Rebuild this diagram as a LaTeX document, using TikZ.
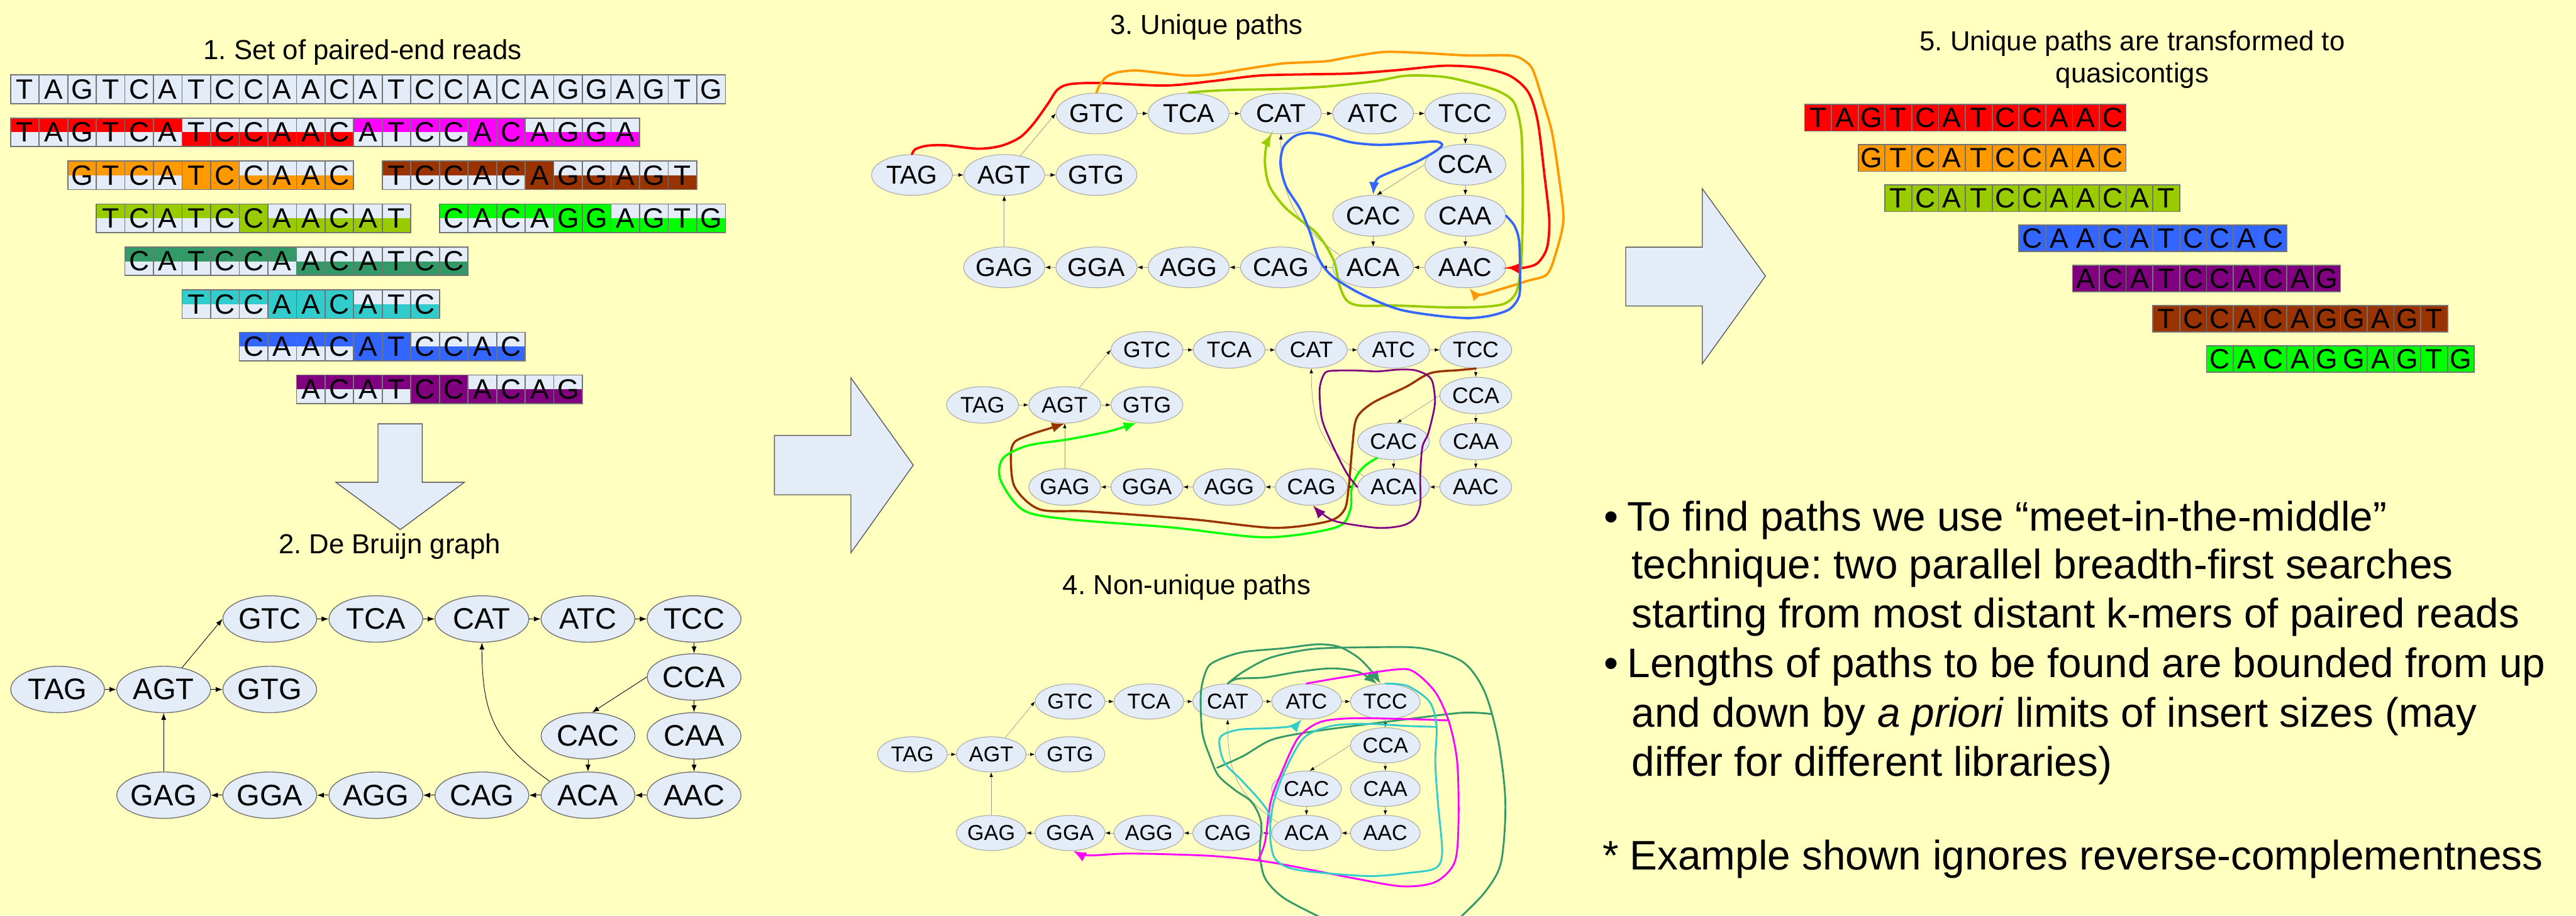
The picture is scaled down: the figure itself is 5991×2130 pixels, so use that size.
\documentclass[tikz,border=0pt]{standalone}
\usepackage{fontspec}
\setmainfont{Liberation Sans}
\frenchspacing
\usetikzlibrary{shapes.geometric,arrows.meta}
\definecolor{bgy}{HTML}{FFFFC0}
\definecolor{cellbg}{HTML}{E4ECF8}
\definecolor{cred}{HTML}{FF0000}
\definecolor{cmag}{HTML}{FF00FF}
\definecolor{corange}{HTML}{FF9900}
\definecolor{cbrown}{HTML}{993300}
\definecolor{cyg}{HTML}{99CC00}
\definecolor{clg}{HTML}{00FF00}
\definecolor{csg}{HTML}{339966}
\definecolor{cteal}{HTML}{33CCCC}
\definecolor{cblue}{HTML}{3366FF}
\definecolor{cpurp}{HTML}{800080}

\def\cw{66.5}\def\chh{66.5}
% #1 name, #2 x origin, #3 y top, #4 start col, #5 letters, #6 colour, #7 n top, #8 n full (rest bottom)
\newcommand\seqrow[8]{%
  \foreach \ltr [count=\i from 0] in {#5}{%
    \pgfmathsetmacro\xl{#2+\cw*(#4+\i)}%
    \fill[cellbg] (\xl,-#3) rectangle ++(\cw,-\chh);
    \ifnum\i<#7\relax
      \fill[#6] (\xl,-#3) rectangle ++(\cw,-\chh/2);
    \else
      \ifnum\i<\numexpr#7+#8\relax
        \fill[#6] (\xl,-#3) rectangle ++(\cw,-\chh);
      \else
        \fill[#6] (\xl,-#3-\chh/2) rectangle ++(\cw,-\chh/2);
      \fi
    \fi
    \draw[cellborder] (\xl,-#3) rectangle ++(\cw,-\chh);
    \node[cellltr] (#1-\i) at (\xl+\cw/2,-#3-\chh/2) {\ltr};
  }%
}
% #1 prefix, #2 x of TAG, #3 column step, #4 y top row, #5 y TAG row, #6 y CCA, #7 y CAC row, #8 y bottom row
\newcommand\dbgraph[8]{%
  \node[kmer] (#1TAG) at (#2,-#5) {TAG};
  \node[kmer] (#1AGT) at (#2+#3,-#5) {AGT};
  \node[kmer] (#1GTG) at (#2+2*#3,-#5) {GTG};
  \node[kmer] (#1GTC) at (#2+2*#3,-#4) {GTC};
  \node[kmer] (#1TCA) at (#2+3*#3,-#4) {TCA};
  \node[kmer] (#1CAT) at (#2+4*#3,-#4) {CAT};
  \node[kmer] (#1ATC) at (#2+5*#3,-#4) {ATC};
  \node[kmer] (#1TCC) at (#2+6*#3,-#4) {TCC};
  \node[kmer] (#1CCA) at (#2+6*#3,-#6) {CCA};
  \node[kmer] (#1CAC) at (#2+5*#3,-#7) {CAC};
  \node[kmer] (#1CAA) at (#2+6*#3,-#7) {CAA};
  \node[kmer] (#1GAG) at (#2+#3,-#8) {GAG};
  \node[kmer] (#1GGA) at (#2+2*#3,-#8) {GGA};
  \node[kmer] (#1AGG) at (#2+3*#3,-#8) {AGG};
  \node[kmer] (#1CAG) at (#2+4*#3,-#8) {CAG};
  \node[kmer] (#1ACA) at (#2+5*#3,-#8) {ACA};
  \node[kmer] (#1AAC) at (#2+6*#3,-#8) {AAC};
  \foreach \a/\b in {TAG/AGT,AGT/GTG,GTC/TCA,TCA/CAT,CAT/ATC,ATC/TCC,TCC/CCA,CCA/CAA,CAA/AAC,CAC/ACA,AAC/ACA,ACA/CAG,CAG/AGG,AGG/GGA,GGA/GAG,GAG/AGT}
    {\draw[dedge] (#1\a) -- (#1\b);}
  \draw[dedge] (#1AGT.50) -- (#1GTC.west);
  \draw[dedge] (#1CCA.west) -- (#1CAC.80);
  \draw[dedge] (#1ACA.160) .. controls +(-0.5*#3,0.35*#3) and +(0,-0.7*#3) .. (#1CAT.south);
}

\begin{document}
\begin{tikzpicture}[x=0.1pt,y=0.1pt,
  ttl/.style={font=\fontsize{6.4}{7.7}\selectfont, anchor=base, inner sep=0},
  cellltr/.style={font=\fontsize{6.5}{7}\selectfont, inner sep=0},
  cellborder/.style={draw=black!55, line width=0.25pt},
  knode/.style={ellipse, draw=black!35, fill=cellbg, inner sep=0, line width=0.15pt},
  cpath/.style={line width=0.55pt, -{Latex[length=3pt,width=2.4pt]}, line cap=round},
  cline/.style={line width=0.45pt, line cap=round},
  bigarr/.style={fill=cellbg, draw=black!65, line width=0.2pt},
  btxt/.style={font=\fontsize{9.6}{11}\selectfont, anchor=base west, inner sep=0}
]
\fill[bgy] (0,0) rectangle (5991,-2130);
\useasboundingbox (0,0) rectangle (5991,-2130);

% ---------- 1. reads ----------
\node[ttl] (t1) at (843,-138) {1. Set of paired-end reads};
\seqrow{ra}{24.5}{174.5}{0}{T,A,G,T,C,A,T,C,C,A,A,C,A,T,C,C,A,C,A,G,G,A,G,T,G}{cellbg}{0}{0}
\seqrow{rb}{24.5}{274.5}{0}{T,A,G,T,C,A,T,C,C,A,A,C}{cred}{6}{0}
\seqrow{rc}{24.5}{274.5}{12}{A,T,C,C,A,C,A,G,G,A}{cmag}{4}{2}
\seqrow{rd}{24.5}{374.5}{2}{G,T,C,A,T,C,C,A,A,C}{corange}{4}{2}
\seqrow{re}{24.5}{374.5}{13}{T,C,C,A,C,A,G,G,A,G,T}{cbrown}{5}{1}
\seqrow{rf}{24.5}{474.5}{3}{T,C,A,T,C,C,A,A,C,A,T}{cyg}{5}{1}
\seqrow{rg}{24.5}{474.5}{15}{C,A,C,A,G,G,A,G,T,G}{clg}{4}{2}
\seqrow{rh}{24.5}{574.5}{4}{C,A,T,C,C,A,A,C,A,T,C,C}{csg}{6}{0}
\seqrow{ri}{24.5}{674.5}{6}{T,C,C,A,A,C,A,T,C}{cteal}{3}{3}
\seqrow{rj}{24.5}{773}{8}{C,A,A,C,A,T,C,C,A,C}{cblue}{4}{2}
\seqrow{rk}{24.5}{872.5}{10}{A,C,A,T,C,C,A,C,A,G}{cpurp}{4}{2}

% ---------- block arrows ----------
\filldraw[bigarr] (879,-986) -- (982,-986) -- (982,-1122) -- (1080,-1122) -- (931,-1232) -- (781,-1122) -- (879,-1122) -- cycle;
\filldraw[bigarr] (1801,-1013) -- (1979,-1013) -- (1979,-879) -- (2124,-1082) -- (1979,-1286) -- (1979,-1151) -- (1801,-1151) -- cycle;
\filldraw[bigarr] (3781,-575) -- (3959,-575) -- (3959,-439) -- (4106,-642) -- (3959,-846) -- (3959,-712) -- (3781,-712) -- cycle;

% ---------- 2. De Bruijn graph ----------
\node[ttl] (t2) at (906,-1288) {2. De Bruijn graph};
\begin{scope}[kmer/.style={knode, minimum width=21.8pt, minimum height=10.8pt, font=\fontsize{6.9}{8}\selectfont, draw=black!55, line width=0.2pt},
  dedge/.style={-{Latex[length=1.6pt,width=1.2pt]}, draw=black, line width=0.13pt}]
\dbgraph{b}{134}{246.7}{1440}{1604}{1575}{1712}{1850}
\end{scope}

% ---------- 3. unique paths ----------
\node[ttl] (t3) at (2806,-80) {3. Unique paths};
\begin{scope}[kmer/.style={knode, minimum width=18.8pt, minimum height=9.5pt, font=\fontsize{6}{7}\selectfont},
  dedge/.style={-{Latex[length=1.2pt,width=0.9pt,color=black]}, draw=black!40, line width=0.12pt}]
\dbgraph{c}{2121}{214.5}{264}{407}{383}{502}{622}
\end{scope}
\draw[cpath,cred] plot[smooth] coordinates {(cTAG.north) (2129,-347) (2156,-339) (2199,-338) (2275,-346) (2329,-339) (2373,-319) (2405,-286) (2438,-240) (2459,-209) (2487,-196) (2557,-193) (2709,-199) (2817,-189) (2926,-176) (3034,-173) (3142,-171) (3251,-163) (3359,-153) (3446,-158) (3511,-176) (3554,-214) (3576,-281) (3592,-408) (3603,-510) (3598,-576) (3576,-612) (3543,-623) (cAAC.east)};
\draw[cpath,corange] plot[smooth] coordinates {(cGTC.north) (2557,-199) (2573,-179) (2600,-168) (2644,-164) (2709,-171) (2763,-176) (2817,-173) (2893,-161) (2980,-148) (3034,-145) (3088,-142) (3142,-132) (3218,-121) (3305,-123) (3413,-129) (3511,-129) (3544,-140) (3565,-163) (3587,-230) (3609,-306) (3625,-408) (3636,-510) (3619,-587) (3598,-638) (3554,-653) (3489,-673) (3440,-686) (cAAC.-80)};
\draw[cpath,cyg] plot[smooth] coordinates {(cTCA.north) (2806,-212) (2871,-209) (2980,-207) (3088,-201) (3197,-189) (3272,-176) (3359,-179) (3435,-196) (3489,-214) (3522,-240) (3538,-306) (3541,-408) (3541,-510) (3538,-612) (3527,-678) (3500,-706) (3446,-714) (3359,-715) (3251,-711) (3164,-711) (3132,-699) (3115,-663) (3104,-612) (3083,-571) (3055,-536) (2991,-485) (2953,-434) (2942,-383) (2945,-340) (cCAT.-115)};
\draw[cpath,cblue] plot[smooth] coordinates {(cCAA.east) (3522,-525) (3533,-561) (3535,-638) (3533,-689) (3511,-719) (3468,-734) (3414,-740) (3338,-734) (3251,-719) (3164,-683) (3099,-643) (3067,-602) (3045,-536) (3023,-485) (2991,-434) (2978,-383) (2985,-342) (3012,-316) (3045,-309) (3088,-316) (3142,-331) (3207,-337) (3283,-333) (3338,-329) (3354,-337) (3338,-352) (3294,-377) (3240,-398) (3207,-413) (3197,-428) (cCAC.north)};

% ---------- middle graph ----------
\begin{scope}[kmer/.style={knode, minimum width=16.7pt, minimum height=8.5pt, font=\fontsize{5.2}{6}\selectfont},
  dedge/.style={-{Latex[length=1.1pt,width=0.8pt,color=black]}, draw=black!40, line width=0.1pt}]
\dbgraph{m}{2285}{191.2}{814}{942}{920}{1027}{1133}
\end{scope}
\begin{scope}[cpath/.append style={line width=0.5pt}]
\draw[cpath,cbrown] plot[smooth] coordinates {(mTCC.south) (3394,-861) (3327,-868) (3270,-900) (3193,-937) (3155,-973) (3145,-1040) (3136,-1140) (3126,-1187) (3088,-1213) (2963,-1228) (2772,-1208) (2533,-1190) (2418,-1185) (2360,-1133) (2351,-1060) (2360,-1028) (2399,-1010) (2440,-997) (mAGT.south)};
\draw[cpath,clg] plot[smooth] coordinates {(mCAC.-135) (3175,-1083) (3155,-1107) (3143,-1140) (3140,-1187) (3107,-1227) (2944,-1250) (2724,-1227) (2485,-1208) (2380,-1187) (2327,-1117) (2332,-1067) (2389,-1037) (2485,-1022) (2581,-1003) (mGTG.-120)};
\draw[cpath,cpurp,line width=0.4pt] plot[smooth] coordinates {(mACA.west) (3136,-1107) (3117,-1073) (3093,-1023) (3074,-973) (3069,-907) (3078,-873) (3093,-863) (3155,-862) (3203,-864) (3251,-860) (3289,-861) (3318,-872) (3332,-890) (3337,-940) (3322,-1007) (3308,-1040) (3303,-1107) (3303,-1173) (3289,-1207) (3260,-1223) (3203,-1228) (3107,-1213) (3069,-1190) (mCAG.-85)};
\end{scope}

% ---------- 4. non-unique paths ----------
\node[ttl] (t4) at (2760,-1383) {4. Non-unique paths};
\begin{scope}[kmer/.style={knode, minimum width=16.2pt, minimum height=8.2pt, font=\fontsize{5}{6}\selectfont},
  dedge/.style={-{Latex[length=1.1pt,width=0.8pt,color=black]}, draw=black!40, line width=0.1pt}]
\dbgraph{d}{2122}{183.3}{1632}{1755}{1734}{1835}{1938}
\end{scope}
\begin{scope}[cpath/.append style={line width=0.42pt}, cline/.append style={line width=0.42pt}]
\draw[cpath,csg] plot[smooth] coordinates {(dCAT.north) (2879,-1579) (2942,-1576) (3019,-1563) (3096,-1555) (3159,-1563) (dTCC.115)};
\draw[cline,csg] plot[smooth] coordinates {(dCAT.north) (2891,-1563) (2955,-1530) (3051,-1510) (3178,-1506) (3306,-1508) (3402,-1540) (3453,-1610) (3485,-1726) (3501,-1866) (3491,-2006) (3453,-2076) (3390,-2140)};
\draw[cpath,csg] plot[smooth] coordinates {(3083,-2140) (2987,-2090) (2942,-2043) (2930,-1983) (2933,-1913) (2911,-1866) (2872,-1838) (2834,-1805) (2815,-1763) (2796,-1703) (2793,-1610) (2808,-1554) (2834,-1535) (2891,-1517) (2987,-1508) (3064,-1499) (3115,-1505) (3159,-1530) (3191,-1563) (dTCC.105)};
\draw[cline,csg] plot[smooth] coordinates {(2831,-1786) (2891,-1759) (2955,-1722) (3032,-1705) (3147,-1689) (3274,-1673) (3402,-1658) (3468,-1661)};
\draw[cpath,cmag] plot[smooth] coordinates {(dATC.north) (3115,-1577) (3242,-1558) (3287,-1562) (3338,-1610) (3370,-1680) (3389,-1773) (3392,-1913) (3383,-2006) (3338,-2052) (3261,-2062) (3147,-2043) (2955,-2006) (2828,-1992) (2700,-1987) (2612,-1986) (2530,-1990) (dGGA.-80)};
\draw[cline,cmag] plot[smooth] coordinates {(3370,-1676) (3274,-1673) (3147,-1671) (3070,-1680) (3019,-1717) (2981,-1796) (2955,-1866) (2942,-1959) (2926,-2001)};
\draw[cpath,cteal] plot[smooth] coordinates {(dTCC.north) (3274,-1596) (3325,-1633) (3341,-1689) (3338,-1773) (3344,-1866) (3354,-1983) (3338,-2020) (3274,-2031) (3179,-2038) (3019,-2024) (2968,-2001) (2955,-1959) (2949,-1889) (2891,-1819) (2847,-1773) (2837,-1717) (2879,-1698) (2955,-1694) (3006,-1689) (dATC.-105)};
\draw[cline,cteal] plot[smooth] coordinates {(3341,-1691) (3274,-1689) (3179,-1684) (3096,-1689) (3032,-1717) (2987,-1796) (2962,-1866) (2955,-1913)};
\end{scope}

% ---------- 5. quasicontigs ----------
\node[ttl] (t5a) at (4959,-118) {5. Unique paths are transformed to};
\node[ttl] (t5b) at (4959,-192) {quasicontigs};
\def\cw{62.3}\def\chh{62}
\seqrow{qa}{4197}{243}{0}{T,A,G,T,C,A,T,C,C,A,A,C}{cred}{0}{99}
\seqrow{qb}{4197}{336.5}{2}{G,T,C,A,T,C,C,A,A,C}{corange}{0}{99}
\seqrow{qc}{4197}{430}{3}{T,C,A,T,C,C,A,A,C,A,T}{cyg}{0}{99}
\seqrow{qd}{4197}{523.5}{8}{C,A,A,C,A,T,C,C,A,C}{cblue}{0}{99}
\seqrow{qe}{4197}{617}{10}{A,C,A,T,C,C,A,C,A,G}{cpurp}{0}{99}
\seqrow{qf}{4197}{710.5}{13}{T,C,C,A,C,A,G,G,A,G,T}{cbrown}{0}{99}
\seqrow{qg}{4197}{804}{15}{C,A,C,A,G,G,A,G,T,G}{clg}{0}{99}

% ---------- notes ----------
\node[btxt] (b1) at (3728,-1235) {•};
\node[btxt] (l1) at (3783,-1235) {To find paths we use “meet-in-the-middle”};
\node[btxt] (l2) at (3793,-1346) {technique: two parallel breadth-first searches};
\node[btxt] (l3) at (3793,-1461) {starting from most distant k-mers of paired reads};
\node[btxt] (b2) at (3728,-1576) {•};
\node[btxt] (l4) at (3783,-1576) {Lengths of paths to be found are bounded from up};
\node[btxt] (l5) at (3793,-1691) {and down by \textit{a priori} limits of insert sizes (may};
\node[btxt] (l6) at (3793,-1806) {differ for different libraries)};
\node[btxt] (l7) at (3725,-2023) {* Example shown ignores reverse-complementness};
\end{tikzpicture}
\end{document}
